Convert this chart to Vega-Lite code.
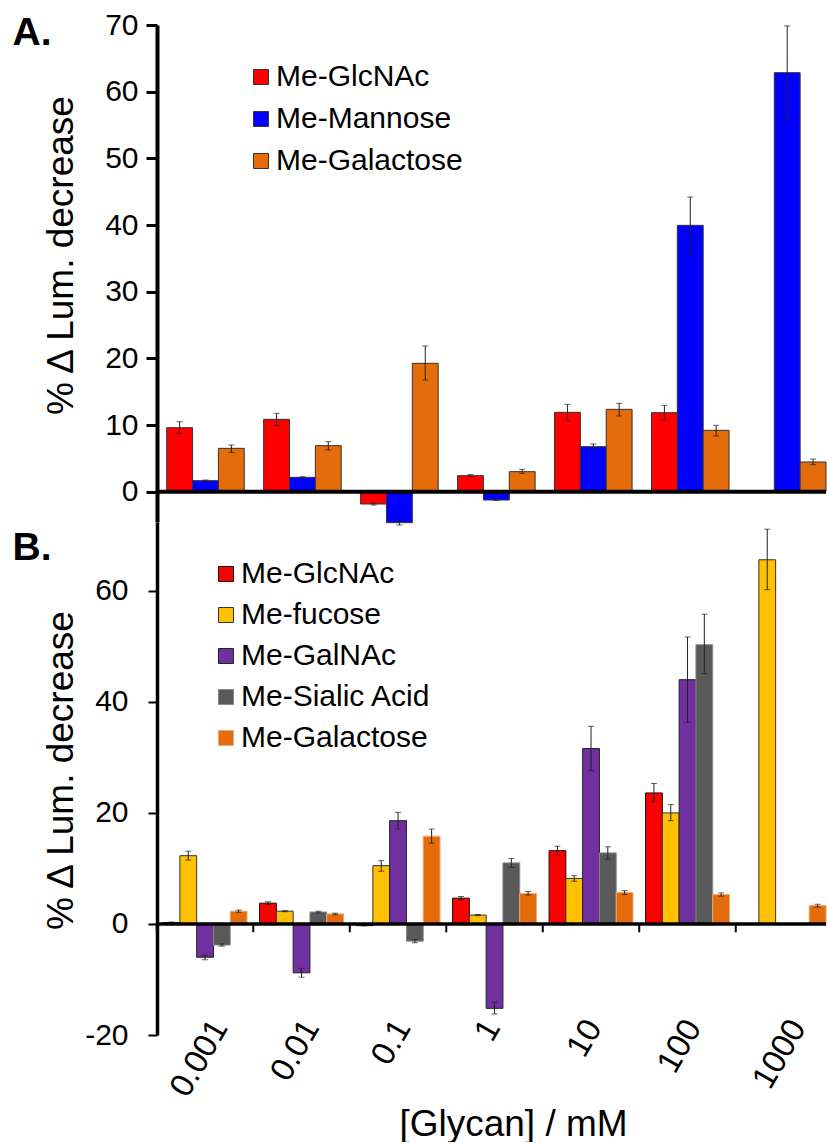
{
  "$schema": "https://vega.github.io/schema/vega-lite/v6.json",
  "background": "white",
  "padding": {"left": 12, "top": 10, "right": 0, "bottom": 0},
  "spacing": 0,
  "bounds": "flush",
  "resolve": {
    "scale": {"x": "independent", "y": "independent", "xOffset": "independent", "color": "independent", "stroke": "independent"},
    "axis": {"x": "independent", "y": "independent"},
    "legend": {"color": "independent", "stroke": "independent"}
  },
  "config": {
    "font": "Liberation Sans",
    "view": {"stroke": null},
    "axis": {"grid": false, "labelColor": "#000", "titleColor": "#000", "domainColor": "#000", "tickColor": "#000", "labelFont": "Liberation Sans", "titleFont": "Liberation Sans", "titleFontWeight": "normal"},
    "legend": {"labelFont": "Liberation Sans", "labelColor": "#000", "labelLimit": 500}
  },
  "datasets": {
    "A": [
      {"conc": "0.001", "series": "Me-GlcNAc", "value": 9.6, "lo": 8.75, "hi": 10.5},
      {"conc": "0.001", "series": "Me-Mannose", "value": 1.65, "lo": 1.55, "hi": 1.75},
      {"conc": "0.001", "series": "Me-Galactose", "value": 6.5, "lo": 5.9, "hi": 7.0},
      {"conc": "0.01", "series": "Me-GlcNAc", "value": 10.85, "lo": 9.9, "hi": 11.75},
      {"conc": "0.01", "series": "Me-Mannose", "value": 2.15, "lo": 2.05, "hi": 2.25},
      {"conc": "0.01", "series": "Me-Galactose", "value": 6.9, "lo": 6.25, "hi": 7.5},
      {"conc": "0.1", "series": "Me-GlcNAc", "value": -1.85, "lo": -2.0, "hi": -1.7},
      {"conc": "0.1", "series": "Me-Mannose", "value": -4.65, "lo": -5.0, "hi": -4.3},
      {"conc": "0.1", "series": "Me-Galactose", "value": 19.25, "lo": 16.75, "hi": 21.85},
      {"conc": "1", "series": "Me-GlcNAc", "value": 2.4, "lo": 2.25, "hi": 2.55},
      {"conc": "1", "series": "Me-Mannose", "value": -1.25, "lo": -1.3, "hi": -1.2},
      {"conc": "1", "series": "Me-Galactose", "value": 3.0, "lo": 2.75, "hi": 3.35},
      {"conc": "10", "series": "Me-GlcNAc", "value": 11.9, "lo": 10.65, "hi": 13.1},
      {"conc": "10", "series": "Me-Mannose", "value": 6.75, "lo": 6.25, "hi": 7.15},
      {"conc": "10", "series": "Me-Galactose", "value": 12.35, "lo": 11.35, "hi": 13.25},
      {"conc": "100", "series": "Me-GlcNAc", "value": 11.85, "lo": 10.7, "hi": 12.95},
      {"conc": "100", "series": "Me-Mannose", "value": 39.95, "lo": 35.6, "hi": 44.2},
      {"conc": "100", "series": "Me-Galactose", "value": 9.2, "lo": 8.35, "hi": 9.95},
      {"conc": "1000", "series": "Me-Mannose", "value": 62.85, "lo": 55.85, "hi": 69.85},
      {"conc": "1000", "series": "Me-Galactose", "value": 4.45, "lo": 4.05, "hi": 4.9}
    ],
    "B": [
      {"conc": "0.001", "series": "Me-GlcNAc", "value": 0.25, "lo": 0.15, "hi": 0.35},
      {"conc": "0.001", "series": "Me-fucose", "value": 12.3, "lo": 11.5, "hi": 13.1},
      {"conc": "0.001", "series": "Me-GalNAc", "value": -6.0, "lo": -6.45, "hi": -5.6},
      {"conc": "0.001", "series": "Me-Sialic Acid", "value": -3.8, "lo": -4.0, "hi": -3.6},
      {"conc": "0.001", "series": "Me-Galactose", "value": 2.3, "lo": 2.1, "hi": 2.5},
      {"conc": "0.01", "series": "Me-GlcNAc", "value": 3.75, "lo": 3.5, "hi": 4.0},
      {"conc": "0.01", "series": "Me-fucose", "value": 2.3, "lo": 2.2, "hi": 2.4},
      {"conc": "0.01", "series": "Me-GalNAc", "value": -8.8, "lo": -9.6, "hi": -8.0},
      {"conc": "0.01", "series": "Me-Sialic Acid", "value": 2.15, "lo": 2.0, "hi": 2.3},
      {"conc": "0.01", "series": "Me-Galactose", "value": 1.8, "lo": 1.65, "hi": 1.95},
      {"conc": "0.1", "series": "Me-GlcNAc", "value": -0.3, "lo": -0.35, "hi": -0.25},
      {"conc": "0.1", "series": "Me-fucose", "value": 10.5, "lo": 9.5, "hi": 11.4},
      {"conc": "0.1", "series": "Me-GalNAc", "value": 18.6, "lo": 17.1, "hi": 20.1},
      {"conc": "0.1", "series": "Me-Sialic Acid", "value": -3.1, "lo": -3.4, "hi": -2.85},
      {"conc": "0.1", "series": "Me-Galactose", "value": 15.8, "lo": 14.55, "hi": 17.1},
      {"conc": "1", "series": "Me-GlcNAc", "value": 4.65, "lo": 4.35, "hi": 4.95},
      {"conc": "1", "series": "Me-fucose", "value": 1.6, "lo": 1.5, "hi": 1.7},
      {"conc": "1", "series": "Me-GalNAc", "value": -15.2, "lo": -16.2, "hi": -14.1},
      {"conc": "1", "series": "Me-Sialic Acid", "value": 11.0, "lo": 10.2, "hi": 11.8},
      {"conc": "1", "series": "Me-Galactose", "value": 5.5, "lo": 5.2, "hi": 5.85},
      {"conc": "10", "series": "Me-GlcNAc", "value": 13.2, "lo": 12.4, "hi": 14.0},
      {"conc": "10", "series": "Me-fucose", "value": 8.2, "lo": 7.7, "hi": 8.7},
      {"conc": "10", "series": "Me-GalNAc", "value": 31.6, "lo": 27.6, "hi": 35.6},
      {"conc": "10", "series": "Me-Sialic Acid", "value": 12.8, "lo": 11.7, "hi": 13.9},
      {"conc": "10", "series": "Me-Galactose", "value": 5.65, "lo": 5.3, "hi": 6.0},
      {"conc": "100", "series": "Me-GlcNAc", "value": 23.6, "lo": 22.0, "hi": 25.3},
      {"conc": "100", "series": "Me-fucose", "value": 20.0, "lo": 18.6, "hi": 21.5},
      {"conc": "100", "series": "Me-GalNAc", "value": 44.0, "lo": 36.3, "hi": 51.7},
      {"conc": "100", "series": "Me-Sialic Acid", "value": 50.3, "lo": 45.1, "hi": 55.8},
      {"conc": "100", "series": "Me-Galactose", "value": 5.3, "lo": 5.0, "hi": 5.6},
      {"conc": "1000", "series": "Me-fucose", "value": 65.6, "lo": 60.2, "hi": 71.1},
      {"conc": "1000", "series": "Me-Galactose", "value": 3.3, "lo": 3.05, "hi": 3.55}
    ],
    "groups": [
      {"conc": "0.001"}, {"conc": "0.01"}, {"conc": "0.1"}, {"conc": "1"}, {"conc": "10"}, {"conc": "100"}, {"conc": "1000"}
    ]
  },
  "vconcat": [
    {
      "width": 669,
      "height": 497,
      "data": {"name": "A"},
      "resolve": {"axis": {"x": "independent"}},
      "layer": [
        {
          "mark": {"type": "bar", "stroke": "#333", "strokeWidth": 1},
          "encoding": {
            "x": {"field": "conc", "type": "nominal", "scale": {"domain": ["0.001", "0.01", "0.1", "1", "10", "100", "1000"], "paddingInner": 0.2, "paddingOuter": 0.05, "align": 1},
              "axis": {"orient": "top", "labels": false, "ticks": false, "domain": false, "title": "A.", "titleFontSize": 39, "titleFontWeight": "bold", "titleX": -145, "titleY": 19, "titleAlign": "left", "titleBaseline": "alphabetic", "titleAngle": 0}},
            "xOffset": {"field": "series", "type": "nominal", "scale": {"domain": ["Me-GlcNAc", "Me-Mannose", "Me-Galactose"], "paddingInner": 0, "paddingOuter": 0}},
            "y": {"field": "value", "type": "quantitative", "title": "% Δ Lum. decrease", "scale": {"domain": [-4.55, 70], "nice": false, "zero": false},
              "axis": {"values": [0, 10, 20, 30, 40, 50, 60, 70], "labelFontSize": 30, "labelPadding": 8, "tickSize": 11, "tickWidth": 3, "domainWidth": 4, "titleFontSize": 37, "titleX": -85, "titleY": 230, "titleAngle": 270, "titleAlign": "center", "titleBaseline": "alphabetic"}},
            "color": {"field": "series", "type": "nominal", "scale": {"domain": ["Me-GlcNAc", "Me-Mannose", "Me-Galactose"], "range": ["#ff0000", "#0000ff", "#e46c0a"]},
              "legend": {"title": null, "orient": "none", "legendX": 89, "legendY": 37, "padding": 0, "labelFontSize": 30, "symbolType": "square", "symbolSize": 225, "symbolStrokeColor": "#333", "symbolStrokeWidth": 1, "rowPadding": 12, "labelOffset": 0}}
          }
        },
        {
          "mark": {"type": "rule", "color": "#222", "strokeWidth": 1},
          "encoding": {
            "x": {"field": "conc", "type": "nominal", "axis": null},
            "xOffset": {"field": "series", "type": "nominal"},
            "y": {"field": "lo", "type": "quantitative", "title": "% Δ Lum. decrease"},
            "y2": {"field": "hi"}
          }
        },
        {
          "mark": {"type": "tick", "color": "#222", "thickness": 1, "size": 6, "orient": "horizontal"},
          "encoding": {
            "x": {"field": "conc", "type": "nominal", "axis": null},
            "xOffset": {"field": "series", "type": "nominal"},
            "y": {"field": "lo", "type": "quantitative", "title": "% Δ Lum. decrease"}
          }
        },
        {
          "mark": {"type": "tick", "color": "#222", "thickness": 1, "size": 6, "orient": "horizontal"},
          "encoding": {
            "x": {"field": "conc", "type": "nominal", "axis": null},
            "xOffset": {"field": "series", "type": "nominal"},
            "y": {"field": "hi", "type": "quantitative", "title": "% Δ Lum. decrease"}
          }
        },
        {
          "data": {"values": [{}]},
          "mark": {"type": "rule", "color": "#000", "strokeWidth": 4},
          "encoding": {"y": {"datum": 0}}
        }
      ]
    },
    {
      "width": 669,
      "height": 513,
      "data": {"name": "B"},
      "resolve": {"axis": {"x": "independent"}},
      "layer": [
        {
          "mark": {"type": "bar", "strokeWidth": 1},
          "encoding": {
            "x": {"field": "conc", "type": "nominal", "title": "[Glycan] / mM", "scale": {"domain": ["0.001", "0.01", "0.1", "1", "10", "100", "1000"], "paddingInner": 0.13, "paddingOuter": 0.0315, "align": 1},
              "axis": {"orient": "bottom", "labelAngle": -60, "labelAlign": "right", "labelBaseline": "middle", "labelFontSize": 33,
                "labelOffset": {"condition": [{"test": "datum.value == '0.001'", "value": 15}, {"test": "datum.value == '0.01'", "value": 10}, {"test": "datum.value == '0.1'", "value": 5}, {"test": "datum.value == '1'", "value": -2}, {"test": "datum.value == '10'", "value": 3}, {"test": "datum.value == '100'", "value": 6}], "value": 14},
                "labelPadding": -13, "labelOverlap": false, "labelBound": false, "ticks": false, "tickSize": 0, "domain": false, "titleFontSize": 37, "titleX": 356, "titleY": 100, "titleAlign": "center", "titleBaseline": "alphabetic", "titleAngle": 0}},
            "xOffset": {"field": "series", "type": "nominal", "scale": {"domain": ["Me-GlcNAc", "Me-fucose", "Me-GalNAc", "Me-Sialic Acid", "Me-Galactose"], "paddingInner": 0, "paddingOuter": 0}},
            "y": {"field": "value", "type": "quantitative", "title": "% Δ Lum. decrease", "scale": {"domain": [-20, 72.4], "nice": false, "zero": false},
              "axis": {"values": [-20, 0, 20, 40, 60], "labelExpr": "datum.value < 0 ? '-' + (-datum.value) : '' + datum.value", "labelFontSize": 30, "labelPadding": 20, "tickSize": 9, "tickWidth": 2, "domainWidth": 3.5, "titleFontSize": 37, "titleX": -85, "titleY": 248, "titleAngle": 270, "titleAlign": "center", "titleBaseline": "alphabetic"}},
            "color": {"field": "series", "type": "nominal", "scale": {"domain": ["Me-GlcNAc", "Me-fucose", "Me-GalNAc", "Me-Sialic Acid", "Me-Galactose"], "range": ["#ff0000", "#ffc000", "#7030a0", "#595959", "#e46c0a"]},
              "legend": {"title": null, "orient": "none", "legendX": 54, "legendY": 37, "padding": 0, "labelFontSize": 30, "symbolType": "square", "symbolSize": 225, "symbolStrokeWidth": 1, "rowPadding": 11, "labelOffset": 0}},
            "stroke": {"field": "series", "type": "nominal", "scale": {"domain": ["Me-GlcNAc", "Me-fucose", "Me-GalNAc", "Me-Sialic Acid", "Me-Galactose"], "range": ["#111111", "#333333", "#222222", "#8a8a8a", "#f0a878"]},
              "legend": {"title": null, "orient": "none", "legendX": 54, "legendY": 37, "padding": 0, "labelFontSize": 30, "symbolType": "square", "symbolSize": 225, "symbolStrokeWidth": 1, "rowPadding": 11, "labelOffset": 0}}
          }
        },
        {
          "mark": {"type": "rule", "color": "#222", "strokeWidth": 1},
          "encoding": {
            "x": {"field": "conc", "type": "nominal", "axis": null},
            "xOffset": {"field": "series", "type": "nominal"},
            "y": {"field": "lo", "type": "quantitative", "title": "% Δ Lum. decrease"},
            "y2": {"field": "hi"}
          }
        },
        {
          "mark": {"type": "tick", "color": "#222", "thickness": 1, "size": 6, "orient": "horizontal"},
          "encoding": {
            "x": {"field": "conc", "type": "nominal", "axis": null},
            "xOffset": {"field": "series", "type": "nominal"},
            "y": {"field": "lo", "type": "quantitative", "title": "% Δ Lum. decrease"}
          }
        },
        {
          "mark": {"type": "tick", "color": "#222", "thickness": 1, "size": 6, "orient": "horizontal"},
          "encoding": {
            "x": {"field": "conc", "type": "nominal", "axis": null},
            "xOffset": {"field": "series", "type": "nominal"},
            "y": {"field": "hi", "type": "quantitative", "title": "% Δ Lum. decrease"}
          }
        },
        {
          "data": {"values": [{}]},
          "mark": {"type": "rule", "color": "#000", "strokeWidth": 3.5},
          "encoding": {"y": {"datum": 0}}
        },
        {
          "data": {"name": "groups"},
          "mark": {"type": "rule", "color": "#000", "strokeWidth": 2},
          "encoding": {
            "x": {"field": "conc", "type": "nominal", "bandPosition": -0.075,
              "axis": {"orient": "top", "labels": false, "ticks": false, "domain": false, "title": "B.", "titleFontSize": 39, "titleFontWeight": "bold", "titleX": -145, "titleY": 37, "titleAlign": "left", "titleBaseline": "alphabetic", "titleAngle": 0}},
            "y": {"datum": 0},
            "y2": {"datum": -1.5}
          }
        }
      ]
    }
  ]
}
